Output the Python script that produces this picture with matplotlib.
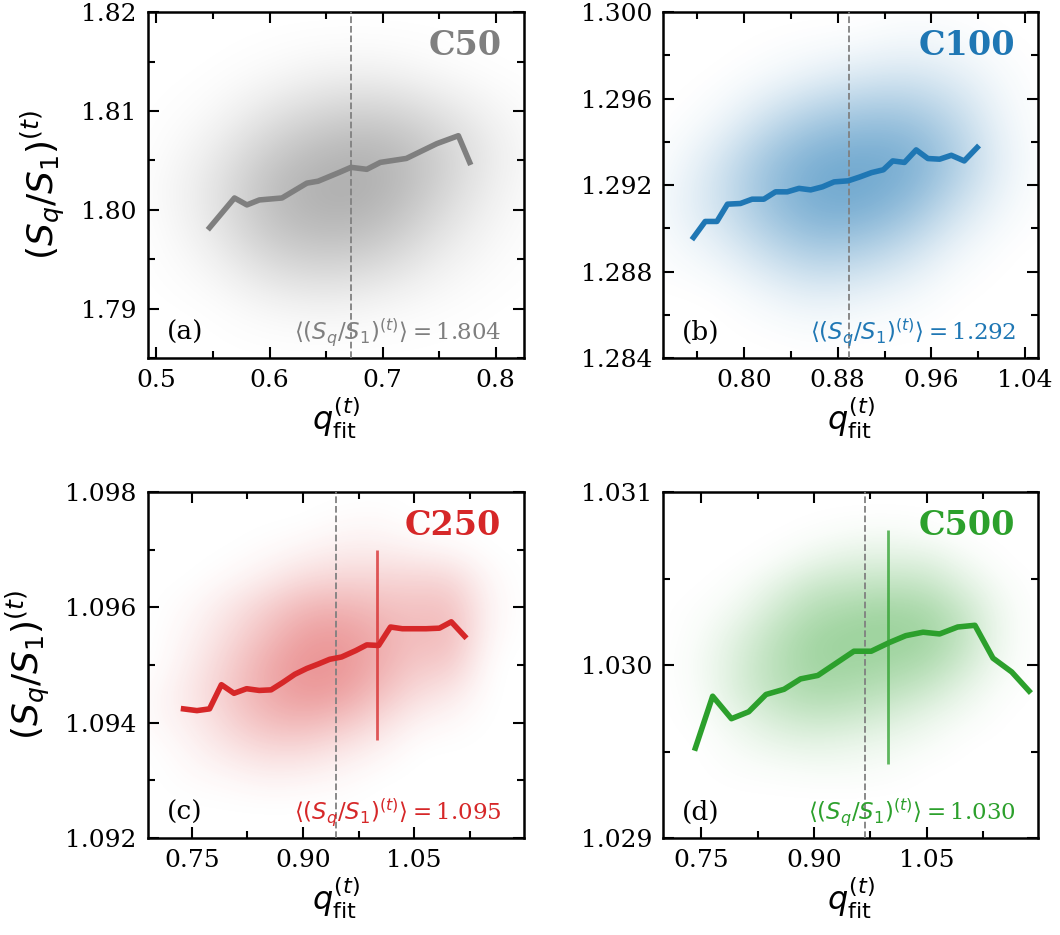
import numpy as np
import matplotlib
matplotlib.use('Agg')
from matplotlib import pyplot as plt
from matplotlib.colors import LinearSegmentedColormap, to_rgba
from matplotlib.ticker import MultipleLocator, FormatStrFormatter

plt.rcParams['font.family'] = 'serif'
plt.rcParams['font.serif'] = ['DejaVu Serif']
plt.rcParams['mathtext.fontset'] = 'dejavusans'

###################
# data
###################
names = ["C50", "C100", "C250", "C500"]
letters = ["(a)", "(b)", "(c)", "(d)"]
colors = ["tab:gray", "tab:blue", "tab:red", "tab:green"]
mean_ratio = ["1.804", "1.292", "1.095", "1.030"]
mean_q = [0.672, 0.890, 0.944, 0.968]

# binned mean curves
a_q = [0.547, 0.569, 0.580, 0.591, 0.611, 0.633, 0.643, 0.662, 0.672, 0.686, 0.698, 0.721, 0.748, 0.767, 0.777]
a_s = [1.7982, 1.8012, 1.8005, 1.8010, 1.8012, 1.8027, 1.8029, 1.8038, 1.8043, 1.8041, 1.8048, 1.8052, 1.8067, 1.8075, 1.8048]

b_q = [0.757, 0.767, 0.777, 0.786, 0.797, 0.807, 0.817, 0.827, 0.837, 0.847, 0.857, 0.867, 0.877,
       0.889, 0.899, 0.909, 0.919, 0.927, 0.937, 0.947, 0.957, 0.967, 0.977, 0.988, 0.999]
b_s = [1.28958, 1.29032, 1.29032, 1.29112, 1.29115, 1.29135, 1.29135, 1.29169, 1.29169, 1.29185, 1.29178,
       1.29192, 1.29215, 1.29220, 1.29238, 1.29258, 1.29271, 1.29312, 1.29305, 1.29363, 1.29323, 1.29320,
       1.29338, 1.29312, 1.29374]

c_q = [0.739, 0.757, 0.774, 0.790, 0.807, 0.824, 0.841, 0.857, 0.873, 0.889, 0.905, 0.921, 0.936,
       0.952, 0.971, 0.986, 1.002, 1.018, 1.034, 1.050, 1.066, 1.084, 1.100, 1.118]
c_s = [1.09424, 1.09421, 1.09424, 1.09466, 1.09451, 1.09459, 1.09456, 1.09457, 1.09470, 1.09484, 1.09494,
       1.09502, 1.09510, 1.09514, 1.09525, 1.09535, 1.09534, 1.09566, 1.09563, 1.09563, 1.09563, 1.09564,
       1.09575, 1.09550]

d_q = [0.742, 0.765, 0.790, 0.813, 0.836, 0.860, 0.882, 0.905, 0.929, 0.953, 0.976, 1.000, 1.022,
       1.045, 1.067, 1.091, 1.114, 1.138, 1.163, 1.186]
d_s = [1.02952, 1.02982, 1.02969, 1.02973, 1.02983, 1.02986, 1.02992, 1.02994, 1.03001, 1.03008, 1.03008,
       1.03013, 1.03017, 1.03019, 1.03018, 1.03022, 1.03023, 1.03004, 1.02996, 1.02985]

# point clouds, as relative density read on a coarse grid (rows from top to bottom)
a_grid_q = [0.50, 0.55, 0.60, 0.65, 0.70, 0.75, 0.80]
a_grid_s = [1.818, 1.814, 1.810, 1.806, 1.802, 1.798, 1.794, 1.790, 1.786]
a_dens = [[0, 0, 0, 0, 0, 0, 0],
          [0, 0, 0.05, 0.15, 0.15, 0.05, 0],
          [0, 0.05, 0.3, 0.5, 0.55, 0.35, 0.1],
          [0, 0.2, 0.6, 0.85, 0.9, 0.6, 0.2],
          [0.03, 0.3, 0.8, 1.0, 0.95, 0.55, 0.15],
          [0, 0.25, 0.7, 0.85, 0.75, 0.35, 0.08],
          [0, 0.1, 0.4, 0.5, 0.4, 0.15, 0.03],
          [0, 0, 0.1, 0.15, 0.08, 0.03, 0],
          [0, 0, 0, 0, 0, 0, 0]]

b_grid_q = [0.74, 0.78, 0.82, 0.86, 0.90, 0.94, 0.98, 1.02]
b_grid_s = [1.299, 1.297, 1.295, 1.293, 1.291, 1.289, 1.287, 1.285]
b_dens = [[0, 0, 0, 0, 0, 0.05, 0.03, 0],
          [0, 0, 0.05, 0.15, 0.25, 0.3, 0.2, 0.05],
          [0, 0.08, 0.35, 0.6, 0.7, 0.7, 0.45, 0.1],
          [0.05, 0.3, 0.7, 0.95, 1.0, 0.95, 0.6, 0.15],
          [0.1, 0.35, 0.7, 0.95, 0.95, 0.75, 0.35, 0.08],
          [0.05, 0.15, 0.4, 0.6, 0.55, 0.35, 0.1, 0],
          [0, 0, 0.1, 0.2, 0.15, 0.08, 0, 0],
          [0, 0, 0, 0.02, 0, 0, 0, 0]]

c_grid_q = [0.70, 0.75, 0.80, 0.85, 0.90, 0.95, 1.00, 1.05, 1.10, 1.15]
c_grid_s = [1.0975, 1.0970, 1.0965, 1.0960, 1.0955, 1.0950, 1.0945, 1.0940, 1.0935, 1.0930, 1.0925]
c_dens = [[0, 0, 0, 0, 0, 0.03, 0.05, 0, 0, 0],
          [0, 0, 0, 0.03, 0.08, 0.15, 0.15, 0.1, 0.05, 0],
          [0, 0, 0.05, 0.15, 0.3, 0.35, 0.35, 0.35, 0.35, 0.05],
          [0, 0.05, 0.2, 0.4, 0.6, 0.65, 0.55, 0.5, 0.55, 0.08],
          [0, 0.1, 0.3, 0.55, 0.8, 0.85, 0.7, 0.55, 0.6, 0.05],
          [0, 0.15, 0.4, 0.7, 0.9, 0.9, 0.7, 0.45, 0.45, 0],
          [0.05, 0.2, 0.45, 0.7, 0.85, 0.8, 0.55, 0.3, 0.2, 0],
          [0.05, 0.15, 0.35, 0.55, 0.6, 0.5, 0.3, 0.1, 0.05, 0],
          [0, 0.08, 0.2, 0.3, 0.3, 0.2, 0.1, 0, 0, 0],
          [0, 0.03, 0.05, 0.1, 0.08, 0.05, 0, 0, 0, 0],
          [0, 0, 0, 0, 0, 0, 0, 0, 0, 0]]

d_grid_q = [0.70, 0.75, 0.80, 0.85, 0.90, 0.95, 1.00, 1.05, 1.10, 1.15]
d_grid_s = [1.03090, 1.03075, 1.03060, 1.03045, 1.03030, 1.03015, 1.03000, 1.02985, 1.02970,
            1.02955, 1.02940, 1.02925]
d_dens = [[0, 0, 0, 0, 0, 0, 0, 0, 0, 0],
          [0, 0, 0, 0, 0.03, 0.08, 0.1, 0.05, 0, 0],
          [0, 0, 0, 0.05, 0.2, 0.3, 0.3, 0.3, 0.1, 0],
          [0, 0, 0.05, 0.25, 0.5, 0.55, 0.6, 0.55, 0.3, 0.05],
          [0, 0.03, 0.15, 0.45, 0.7, 0.8, 0.85, 0.8, 0.5, 0.1],
          [0, 0.05, 0.3, 0.6, 0.85, 0.9, 0.9, 0.85, 0.55, 0.1],
          [0, 0.08, 0.35, 0.65, 0.85, 0.85, 0.8, 0.7, 0.4, 0.08],
          [0, 0.05, 0.35, 0.6, 0.75, 0.7, 0.6, 0.45, 0.2, 0.03],
          [0, 0.03, 0.2, 0.4, 0.5, 0.45, 0.35, 0.2, 0.08, 0],
          [0, 0, 0.1, 0.2, 0.25, 0.2, 0.15, 0.08, 0, 0],
          [0, 0, 0.03, 0.05, 0.08, 0.08, 0.05, 0, 0, 0],
          [0, 0, 0, 0, 0, 0, 0, 0, 0, 0]]

# pile-up of fits at q = 1 (panels c, d): q, low, high
c_stripe = [1.000, 1.0937, 1.0970]
d_stripe = [0.999, 1.02943, 1.03078]

curves = [(a_q, a_s), (b_q, b_s), (c_q, c_s), (d_q, d_s)]
clouds = [(a_grid_q, a_grid_s, a_dens), (b_grid_q, b_grid_s, b_dens),
          (c_grid_q, c_grid_s, c_dens), (d_grid_q, d_grid_s, d_dens)]
stripes = [None, None, c_stripe, d_stripe]

###################
# axes settings
###################
xlims = [(0.4925, 0.825), (0.731, 1.051), (0.691, 1.198), (0.699, 1.198)]
ylims = [(1.785, 1.82), (1.284, 1.300), (1.092, 1.098), (1.029, 1.031)]
x_major = [0.1, 0.08, 0.15, 0.15]
y_major = [0.01, 0.004, 0.002, 0.001]
x_fmt = ['%.1f', '%.2f', '%.2f', '%.2f']
y_fmt = ['%.2f', '%.3f', '%.3f', '%.3f']
cloud_alpha = [0.65, 0.65, 0.55, 0.52]

positions = [[0.1396, 0.617, 0.3547, 0.370], [0.6255, 0.617, 0.3538, 0.370],
             [0.1396, 0.1037, 0.3547, 0.370], [0.6255, 0.1037, 0.3538, 0.370]]

fig = plt.figure(figsize=(10.6, 9.35), dpi=100)

for i in range(4):
    ax = fig.add_axes(positions[i])
    col = colors[i]

    # density cloud, one empty cell added all round so it fades out
    gq, gs, dens = clouds[i]
    dq = gq[1] - gq[0]
    ds = gs[0] - gs[1]
    dens = np.pad(np.array(dens, dtype=float), 1)
    cmap = LinearSegmentedColormap.from_list(
        f"cl{i}", [to_rgba(col, 0.0), to_rgba(col, cloud_alpha[i])])
    ax.imshow(dens, cmap=cmap, vmin=0, vmax=1, interpolation='bicubic',
              origin='upper', aspect='auto', zorder=1,
              extent=(gq[0] - 1.5 * dq, gq[-1] + 1.5 * dq, gs[-1] - 1.5 * ds, gs[0] + 1.5 * ds))

    if stripes[i] is not None:
        sq, lo, hi = stripes[i]
        ax.vlines(sq, lo, hi, color=col, lw=2.0, alpha=0.75, zorder=2)

    ax.axvline(mean_q[i], color='gray', ls='--', lw=1.3, zorder=3)
    ax.plot(curves[i][0], curves[i][1], color=col, lw=4, zorder=4)

    ax.set_xlim(*xlims[i])
    ax.set_ylim(*ylims[i])
    ax.xaxis.set_major_locator(MultipleLocator(x_major[i]))
    ax.xaxis.set_minor_locator(MultipleLocator(x_major[i] / 2))
    ax.yaxis.set_major_locator(MultipleLocator(y_major[i]))
    ax.yaxis.set_minor_locator(MultipleLocator(y_major[i] / 2))
    ax.xaxis.set_major_formatter(FormatStrFormatter(x_fmt[i]))
    ax.yaxis.set_major_formatter(FormatStrFormatter(y_fmt[i]))
    ax.tick_params(which='both', direction='in', top=True, right=True, width=1.5,
                   labelsize=18, pad=8)
    ax.tick_params(which='major', length=8)
    ax.tick_params(which='minor', length=5)
    for sp in ax.spines.values():
        sp.set_linewidth(1.8)

    ax.set_xlabel(r'$q_{\rm fit}^{(t)}$', fontsize=23, labelpad=3)
    if i % 2 == 0:
        ax.set_ylabel(r'$(S_q/S_1)^{(t)}$', fontsize=26, labelpad=10)

    ax.text(0.94, 0.876, names[i], transform=ax.transAxes, ha='right', va='baseline',
            fontsize=24, fontweight='bold', color=col)
    ax.text(0.05, 0.052, letters[i], transform=ax.transAxes, ha='left', va='baseline',
            fontsize=19)
    ax.text(0.94, 0.052, r'$\langle (S_q/S_1)^{(t)}\rangle = $' + mean_ratio[i],
            transform=ax.transAxes, ha='right', va='baseline', fontsize=16.5, color=col)

fig.savefig('out.png', dpi=100)
